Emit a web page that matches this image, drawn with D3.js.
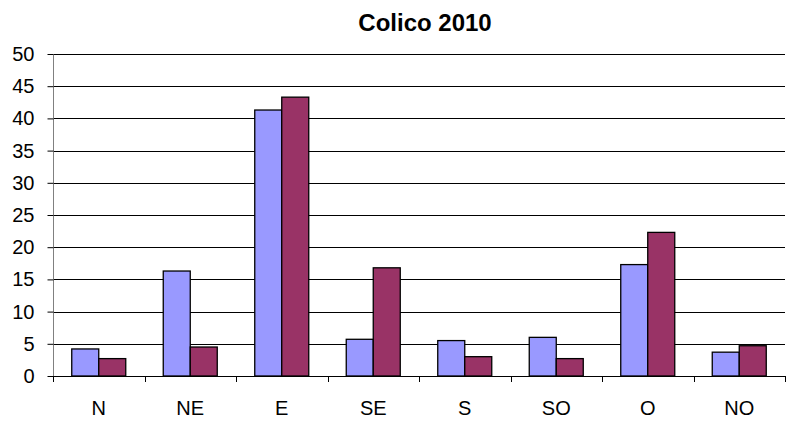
<!DOCTYPE html>
<html><head><meta charset="utf-8">
<script src="https://cdn.jsdelivr.net/npm/d3@7"></script>
<style>body{margin:0;background:#fff}svg{display:block}</style>
</head><body>
<svg id="c" width="791" height="421"></svg>
<script>
const categories = ["N","NE","E","SE","S","SO","O","NO"];
const series1 = [4.2,16.3,41.3,5.7,5.5,6.0,17.3,3.7];
const series2 = [2.7,4.5,43.3,16.8,3.0,2.7,22.3,4.7];
const yTicks = [0,5,10,15,20,25,30,35,40,45,50];
const title = "Colico 2010";

const svg = d3.select("#c");
const L = 53, R = 785, T = 54, B = 376;
const font = "'Liberation Sans', Arial, sans-serif";
const x = d3.scaleBand().domain(categories).range([L, R]);
const y = d3.scaleLinear().domain([0,50]).range([B, T]);

// gridlines
svg.append("g").selectAll("line").data(yTicks.filter(d=>d>0)).join("line")
  .attr("x1", L).attr("x2", R).attr("y1", d=>Math.round(y(d))+0.5).attr("y2", d=>Math.round(y(d))+0.5)
  .attr("stroke", "#000").attr("stroke-width", 1);

// bars
const bw = 27;
const g = svg.append("g");
categories.forEach((c,i)=>{
  const cx = x(c) + x.bandwidth()/2;
  [[series1[i],"#9999FF",cx-bw],[series2[i],"#993366",cx]].forEach(([v,col,x0])=>{
    g.append("rect").attr("x", x0).attr("y", y(v)).attr("width", bw).attr("height", y(0)-y(v))
      .attr("fill", col).attr("stroke", "#000").attr("stroke-width", 1.3);
  });
});

// y axis
const ya = svg.append("g").attr("transform", `translate(${L+0.5},0)`)
  .call(d3.axisLeft(y).tickValues(yTicks).tickSize(6).tickPadding(13));
ya.select(".domain").attr("stroke", "#808080").attr("d", `M-0,${B+6}V${T}`);
ya.selectAll(".tick line").attr("stroke", "#000");
ya.selectAll("text").attr("font-family", font).attr("font-size", 20).attr("fill", "#000");

// x axis
const xa = svg.append("g").attr("transform", `translate(0,${Math.round(B)+0.5})`)
  .call(d3.axisBottom(x).tickSize(0).tickPadding(24));
xa.select(".domain").attr("stroke", "#000").attr("d", `M${L},0H${R}`);
xa.selectAll("text").attr("font-family", font).attr("font-size", 20).attr("fill", "#000");
svg.append("g").selectAll("line").data(d3.range(categories.length+1)).join("line")
  .attr("x1", i=>Math.round(L + i*x.step())+0.5).attr("x2", i=>Math.round(L + i*x.step())+0.5)
  .attr("y1", B).attr("y2", B+6).attr("stroke", "#000");

svg.append("text").attr("x", 425).attr("y", 31).attr("text-anchor","middle")
  .attr("font-family", font).attr("font-weight","bold").attr("font-size", 24).text(title);
</script>
</body></html>
